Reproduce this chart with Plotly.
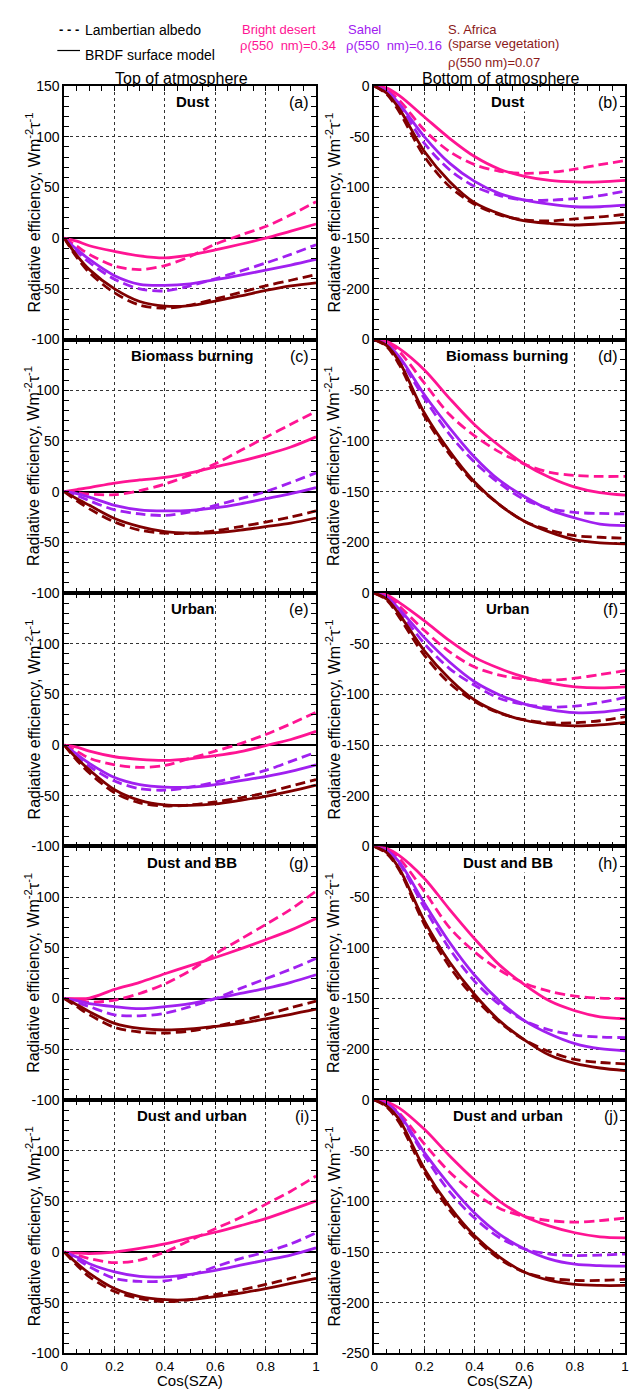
import plotly.graph_objects as go

W, H = 633, 1396
FONT = "Arial, Liberation Sans, sans-serif"

cos_sza = [0, 0.05, 0.1, 0.2, 0.3, 0.4, 0.5, 0.6, 0.7, 0.8, 0.9, 1.0]

# (a) TOA Dust
a_desert_brdf = [0, -3, -7.5, -13, -17.5, -19.5, -16.5, -11.5, -6, 0, 7, 14]
a_desert_lamb = [0, -8, -16, -27.5, -31, -27, -18, -6, 3, 11.5, 23, 36]
a_sahel_brdf = [0, -11, -21, -37, -45.5, -46.5, -45, -41, -36.5, -31.5, -26.5, -21]
a_sahel_lamb = [0, -13, -24, -40.5, -50, -52, -47, -40, -32.5, -24.5, -16, -6.5]
a_safrica_brdf = [0, -17, -31, -50, -62.5, -67, -66.5, -62, -57, -51.5, -47, -44]
a_safrica_lamb = [0, -19, -34, -54, -66, -69, -66, -60, -53.5, -47, -41.5, -36]
# (b) BOA Dust
b_desert_brdf = [0, -2, -9.5, -30.5, -51.5, -69.5, -82, -89, -93, -94.5, -94.5, -93]
b_desert_lamb = [0, -4, -14, -43.5, -64.5, -77.5, -84, -86, -85, -82, -77.5, -73.5]
b_sahel_brdf = [0, -5, -17.5, -50, -76, -94, -106, -112.5, -116.5, -119, -119, -117.5]
b_sahel_lamb = [0, -6, -19, -56.5, -82.5, -99, -108, -112.5, -112.5, -111, -108, -103.5]
b_safrica_brdf = [0, -7, -22.5, -64.5, -94, -115, -126, -133, -135.5, -137, -136, -134.5]
b_safrica_lamb = [0, -8, -25.5, -69.5, -99, -116.5, -127, -132, -133, -131, -129, -126.5]
# (c) TOA Biomass burning
c_desert_brdf = [0, 2, 4, 8.5, 11.5, 14, 18.5, 24.5, 30, 36.5, 44, 54]
c_desert_lamb = [0, -1, -2.5, -3, 1, 7.5, 16.5, 27.5, 40.5, 53.5, 66.5, 79]
c_sahel_brdf = [0, -2, -5.5, -13.5, -18, -19, -18.5, -16, -12, -7, -2, 4]
c_sahel_lamb = [0, -4, -9, -18, -22, -23.5, -20, -13.5, -7, 0, 9, 18.5]
c_safrica_brdf = [0, -7, -13.5, -26.5, -34.5, -39.5, -41, -40.5, -38, -34.5, -31, -26]
c_safrica_lamb = [0, -9, -17, -30, -38, -41, -41, -38.5, -34.5, -30, -25, -19]
# (d) BOA Biomass burning
d_desert_brdf = [0, -2, -9, -30, -58, -84, -105, -123, -136, -145.5, -151, -153.5]
d_desert_lamb = [0, -3, -12, -43, -74, -95, -111, -123, -131, -134, -135, -135]
d_sahel_brdf = [0, -5, -17, -54.5, -87, -116, -139, -155, -168, -176, -182, -183.5]
d_sahel_lamb = [0, -5, -19, -58, -93.5, -121, -142, -158, -166.5, -170.5, -171.5, -172]
d_safrica_brdf = [0, -6, -22, -72.5, -110, -140.5, -163, -179.5, -190, -197.5, -200.5, -201.5]
d_safrica_lamb = [0, -7, -25, -75.5, -113, -142, -163, -179.5, -188, -193.5, -195, -196]
# (e) TOA Urban
e_desert_brdf = [0, -2, -6, -11.5, -14, -15, -13.5, -10.5, -6.5, -0.5, 5.5, 13.5]
e_desert_lamb = [0, -6, -13, -19.5, -22, -20, -13, -6, 1.5, 10.5, 21, 32.5]
e_sahel_brdf = [0, -9, -18, -32, -39, -41.5, -41.5, -39, -35, -31, -26, -19.5]
e_sahel_lamb = [0, -11, -21, -35.5, -43, -44.5, -41.5, -36.5, -31, -25, -16, -7]
e_safrica_brdf = [0, -13, -24.5, -44, -54.5, -59, -59.5, -58, -54.5, -50.5, -45.5, -39.5]
e_safrica_lamb = [0, -15, -27.5, -47, -57, -60, -59, -56, -52, -47, -40.5, -34]
# (f) BOA Urban
f_desert_brdf = [0, -2, -9.5, -27.5, -47, -63.5, -74.5, -83, -89, -92.5, -93.5, -92.5]
f_desert_lamb = [0, -3, -13, -37, -58, -73, -81, -85, -86, -84, -80.5, -76.5]
f_sahel_brdf = [0, -4, -16, -44, -68, -87.5, -100.5, -109.5, -115, -118, -117.5, -114.5]
f_sahel_lamb = [0, -5, -18, -50, -74.5, -91, -104, -110, -112.5, -111.5, -108, -103]
f_safrica_brdf = [0, -6, -21, -57, -84.5, -105.5, -118, -125.5, -129.5, -131, -130, -127.5]
f_safrica_lamb = [0, -7, -24, -61.5, -89, -107, -118.5, -125, -128, -128, -126, -122]
# (g) TOA Dust and BB
g_desert_brdf = [0, 0, 0.5, 9, 16, 24.5, 32.5, 40.5, 49, 58, 67.5, 79]
g_desert_lamb = [0, -1, -3.5, -1.5, 5, 14.5, 27.5, 44, 58.5, 73, 88, 106]
g_sahel_brdf = [0, -2, -5, -8, -10, -8, -5, 0, 5, 10, 16, 23.5]
g_sahel_lamb = [0, -4, -8, -16, -17, -14.5, -8, 0, 10, 19.5, 29, 39.5]
g_safrica_brdf = [0, -6, -13, -24.5, -29.5, -31, -30, -27.5, -24.5, -20, -15.5, -10.5]
g_safrica_lamb = [0, -8, -16, -28.5, -33, -34, -32, -27.5, -22, -16, -9, -2.5]
# (h) BOA Dust and BB
h_desert_brdf = [0, -2, -9, -31.5, -62, -91, -117, -136.5, -152.5, -162, -168, -170]
h_desert_lamb = [0, -3, -12, -44.5, -80, -104, -122, -135, -143, -147.5, -149.5, -150]
h_sahel_brdf = [0, -4, -15.5, -56, -94.5, -127, -152.5, -172, -185, -194.5, -199.5, -201.5]
h_sahel_lamb = [0, -5, -17, -60.5, -101, -133, -156, -172, -181, -186, -188, -188.5]
h_safrica_brdf = [0, -6, -22, -73.5, -114, -146, -172, -191, -206, -214, -218.5, -221]
h_safrica_lamb = [0, -7, -23.5, -77, -118.5, -149.5, -173.5, -191, -202.5, -210, -213, -214.5]
# (i) TOA Dust and urban
i_desert_brdf = [0, -1, -1.5, 0, 3.5, 8, 14, 19.5, 26, 33, 41.5, 50.5]
i_desert_lamb = [0, -3, -6.5, -10.5, -8, 0, 11.5, 23, 34, 47, 60, 75]
i_sahel_brdf = [0, -5, -11.5, -19.5, -24, -24.5, -22, -18, -13, -8, -3, 4]
i_sahel_lamb = [0, -7, -14.5, -26, -29, -28.5, -23, -14.5, -6.5, 0, 8, 19]
i_safrica_brdf = [0, -11, -21, -36, -44, -47, -47, -44, -40.5, -36, -31, -26]
i_safrica_lamb = [0, -13, -24.5, -39, -46, -49, -47, -42, -37.5, -32, -26, -19.5]
# (j) BOA Dust and urban
j_desert_brdf = [0, -2, -8, -29, -55, -79, -100, -115, -124.5, -131, -135, -136]
j_desert_lamb = [0, -3, -13, -43.5, -71, -92, -107, -115, -119, -120.5, -119, -116.5]
j_sahel_brdf = [0, -4, -14.5, -52, -84, -111.5, -132.5, -147, -157, -162, -163.5, -164]
j_sahel_lamb = [0, -5, -16, -55, -90.5, -116.5, -136, -147, -152, -153.5, -153, -152]
j_safrica_brdf = [0, -6, -19.5, -68, -105, -134, -155, -170, -178, -182, -183, -183]
j_safrica_lamb = [0, -7, -22.5, -71, -108.5, -136, -157, -170, -176, -178, -178, -177]

panel_names = ["Dust", "Dust", "Biomass burning", "Biomass burning", "Urban", "Urban",
               "Dust and BB", "Dust and BB", "Dust and urban", "Dust and urban"]
panel_tags = ["(a)", "(b)", "(c)", "(d)", "(e)", "(f)", "(g)", "(h)", "(i)", "(j)"]
panel_series = [
    [a_desert_lamb, a_desert_brdf, a_sahel_lamb, a_sahel_brdf, a_safrica_lamb, a_safrica_brdf],
    [b_desert_lamb, b_desert_brdf, b_sahel_lamb, b_sahel_brdf, b_safrica_lamb, b_safrica_brdf],
    [c_desert_lamb, c_desert_brdf, c_sahel_lamb, c_sahel_brdf, c_safrica_lamb, c_safrica_brdf],
    [d_desert_lamb, d_desert_brdf, d_sahel_lamb, d_sahel_brdf, d_safrica_lamb, d_safrica_brdf],
    [e_desert_lamb, e_desert_brdf, e_sahel_lamb, e_sahel_brdf, e_safrica_lamb, e_safrica_brdf],
    [f_desert_lamb, f_desert_brdf, f_sahel_lamb, f_sahel_brdf, f_safrica_lamb, f_safrica_brdf],
    [g_desert_lamb, g_desert_brdf, g_sahel_lamb, g_sahel_brdf, g_safrica_lamb, g_safrica_brdf],
    [h_desert_lamb, h_desert_brdf, h_sahel_lamb, h_sahel_brdf, h_safrica_lamb, h_safrica_brdf],
    [i_desert_lamb, i_desert_brdf, i_sahel_lamb, i_sahel_brdf, i_safrica_lamb, i_safrica_brdf],
    [j_desert_lamb, j_desert_brdf, j_sahel_lamb, j_sahel_brdf, j_safrica_lamb, j_safrica_brdf],
]
site_colors = ["#FF1493", "#FF1493", "#A020F0", "#A020F0", "#800000", "#800000"]
site_dash = ["10px,5px", "solid"] * 3

x_tickvals = [0, 0.2, 0.4, 0.6, 0.8, 1.0]
x_ticktext = ["0", "0.2", "0.4", "0.6", "0.8", "1"]
toa_tickvals = [-100, -50, 0, 50, 100, 150]
toa_ticktext = ["-100", "-50", "0", "50", "100", "150"]
boa_tickvals = [-250, -200, -150, -100, -50, 0]
boa_ticktext = ["-250", "-200", "-150", "-100", "-50", "0"]

LX = (61, 316)
RX = (375, 629)
TOP = 79
PH = 256.4


def px(x):
    return x / W


def py(y):
    return 1 - y / H


fig = go.Figure()
layout = dict(
    width=W, height=H, margin=dict(l=0, r=0, t=0, b=0, pad=0),
    paper_bgcolor="white", plot_bgcolor="white", showlegend=False,
    font=dict(family=FONT, size=14, color="black"),
)
annotations = []
shapes = []

ytitle = "Radiative efficiency, Wm<sup>-2</sup>τ<sup>-1</sup>"

for p in range(10):
    r, c = divmod(p, 2)
    n = p + 1
    sfx = "" if n == 1 else str(n)
    xa, ya = "x" + sfx, "y" + sfx
    for k, ser in enumerate(panel_series[p]):
        fig.add_trace(go.Scatter(
            x=cos_sza, y=ser, mode="lines", xaxis=xa, yaxis=ya,
            line=dict(color=site_colors[k], width=2.8, dash=site_dash[k],
                      shape="spline", smoothing=0.9),
            hoverinfo="skip", showlegend=False))
    top = TOP + r * PH
    bot = top + PH
    xr = LX if c == 0 else RX
    layout["xaxis" + sfx] = dict(
        domain=[px(xr[0]), px(xr[1])], anchor=ya, range=[0, 1],
        tickmode="array", tickvals=x_tickvals, ticktext=x_ticktext,
        showticklabels=(r == 4), ticks="inside", ticklen=5, tickwidth=1.2,
        tickcolor="black", tickfont=dict(size=13.5),
        minor=dict(ticks="inside", tickmode="linear", tick0=0, dtick=0.05,
                   ticklen=5, tickwidth=1.2, tickcolor="black", showgrid=False),
        showline=True, linecolor="black", linewidth=1.6, mirror="allticks",
        showgrid=True, gridcolor="#333", griddash="dot", gridwidth=0.8,
        zeroline=False, fixedrange=True)
    if c == 0:
        # the top label of lower panels is covered by the panel above
        tv = toa_tickvals if r == 0 else toa_tickvals[:-1]
        tt = toa_ticktext if r == 0 else toa_ticktext[:-1]
        yr = [-100, 150]
        zl = True
    else:
        # the bottom label of upper panels is covered by the panel below
        tv = boa_tickvals if r == 4 else boa_tickvals[1:]
        tt = boa_ticktext if r == 4 else boa_ticktext[1:]
        yr = [-250, 0]
        zl = False
    layout["yaxis" + sfx] = dict(
        domain=[py(bot), py(top)], anchor=xa, range=yr,
        tickmode="array", tickvals=tv, ticktext=tt,
        ticks="inside", ticklen=5, tickwidth=1.2, tickcolor="black",
        tickfont=dict(size=14),
        minor=dict(ticks="inside", tickmode="linear", tick0=0, dtick=10,
                   ticklen=5, tickwidth=1.2, tickcolor="black", showgrid=False),
        showline=True, linecolor="black", linewidth=1.6, mirror="allticks",
        showgrid=True, gridcolor="#333", griddash="dot", gridwidth=0.8,
        zeroline=zl, zerolinecolor="black", zerolinewidth=2, fixedrange=True)

    cx = (xr[0] + xr[1]) / 2 + (2 if c == 0 else 8)
    annotations.append(dict(
        text="<b>" + panel_names[p] + "</b>", x=px(cx), y=py(top + 16),
        xref="paper", yref="paper", xanchor="center", yanchor="middle",
        showarrow=False, font=dict(size=15, color="black"),
        bgcolor="white" if c == 1 else None))
    annotations.append(dict(
        text=panel_tags[p], x=px(xr[1] - 5), y=py(top + 17),
        xref="paper", yref="paper", xanchor="right", yanchor="middle",
        showarrow=False, font=dict(size=16, color="black")))
    annotations.append(dict(
        text=ytitle, x=px(29 if c == 0 else 333), y=py((top + bot) / 2),
        xref="paper", yref="paper", xanchor="center", yanchor="middle",
        textangle=-90, showarrow=False, font=dict(size=16, color="black")))

# column titles
annotations.append(dict(text="Top of atmosphere", x=px(180), y=py(71),
                        xref="paper", yref="paper", xanchor="center", yanchor="middle",
                        showarrow=False, font=dict(size=16)))
annotations.append(dict(text="Bottom of atmosphere", x=px(503), y=py(71),
                        xref="paper", yref="paper", xanchor="center", yanchor="middle",
                        showarrow=False, font=dict(size=16)))
# x-axis titles
for xr in (LX, RX):
    annotations.append(dict(text="Cos(SZA)", x=px((xr[0] + xr[1]) / 2), y=py(1388),
                            xref="paper", yref="paper", xanchor="center", yanchor="middle",
                            showarrow=False, font=dict(size=15)))

# legend
annotations.append(dict(text="<b>- - -</b>", x=px(54), y=py(22), xref="paper", yref="paper",
                        xanchor="left", yanchor="middle", showarrow=False, font=dict(size=13)))
annotations.append(dict(text="Lambertian albedo", x=px(80), y=py(22), xref="paper", yref="paper",
                        xanchor="left", yanchor="middle", showarrow=False, font=dict(size=14)))
shapes.append(dict(type="line", xref="paper", yref="paper", x0=px(54), x1=px(77),
                   y0=py(43), y1=py(43), line=dict(color="black", width=1.2)))
annotations.append(dict(text="BRDF surface model", x=px(80), y=py(48), xref="paper", yref="paper",
                        xanchor="left", yanchor="middle", showarrow=False, font=dict(size=14)))
legend_txt = [
    ("Bright desert", 239, 22, "#FF1493"),
    ("ρ(550  nm)=0.34", 237, 38, "#FF1493"),
    ("Sahel", 346, 22, "#A020F0"),
    ("ρ(550  nm)=0.16", 344, 38, "#A020F0"),
    ("S. Africa", 448, 22, "#8B1A1A"),
    ("(sparse vegetation)", 448, 36, "#8B1A1A"),
    ("ρ(550 nm)=0.07", 448, 55, "#8B1A1A"),
]
for t, x, y, col in legend_txt:
    annotations.append(dict(text=t, x=px(x), y=py(y), xref="paper", yref="paper",
                            xanchor="left", yanchor="middle", showarrow=False,
                            font=dict(size=13, color=col)))

layout["annotations"] = annotations
layout["shapes"] = shapes
fig.update_layout(**layout)
fig.write_html("out.html",
               config={"displayModeBar": False},
               post_script="document.body.style.margin='0px';"
                           "document.body.style.overflow='hidden';")
